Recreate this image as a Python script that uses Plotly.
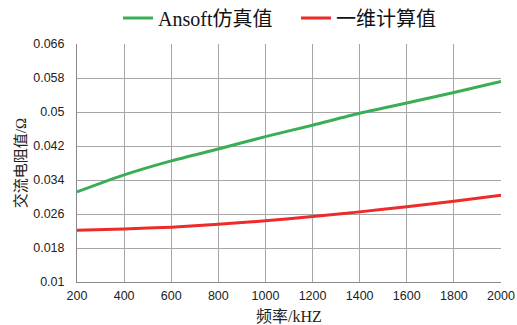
import plotly.graph_objects as go

freq = [200, 400, 600, 800, 1000, 1200, 1400, 1600, 1800, 2000]
ansoft = [0.0312, 0.0352, 0.0385, 0.0413, 0.0442, 0.0469, 0.0497, 0.0521, 0.0546, 0.0572]
one_d = [0.0222, 0.0225, 0.0229, 0.0236, 0.0244, 0.0254, 0.0265, 0.0277, 0.0290, 0.0304]
y_ticks = [0.01, 0.018, 0.026, 0.034, 0.042, 0.05, 0.058, 0.066]
y_labels = ["0.01", "0.018", "0.026", "0.034", "0.042", "0.05", "0.058", "0.066"]

fig = go.Figure()
fig.add_trace(go.Scatter(x=freq, y=ansoft, mode="lines", name="Ansoft仿真值",
                         line=dict(color="#3aae55", width=3, shape="spline", smoothing=0.6)))
fig.add_trace(go.Scatter(x=freq, y=one_d, mode="lines", name="一维计算值",
                         line=dict(color="#ee2b2b", width=3, shape="spline", smoothing=0.6)))

tick_font = dict(family="Liberation Sans, Arial, sans-serif", size=12.5, color="#222")
title_font = dict(family="Liberation Serif, Noto Sans CJK SC, serif", size=16, color="#222")
ytitle_font = dict(family="Liberation Serif, Noto Sans CJK SC, serif", size=15, color="#222")
fig.update_layout(
    width=517, height=325,
    margin=dict(l=77, r=16, t=44, b=43, autoexpand=False),
    paper_bgcolor="white", plot_bgcolor="white",
    showlegend=True,
    legend=dict(orientation="h", xref="container", yref="container", x=118 / 517, y=0.945,
                xanchor="left", yanchor="middle",
                font=dict(family="Liberation Serif, Noto Sans CJK SC, serif", size=20, color="#111"),
                itemwidth=30, tracegroupgap=0, entrywidth=133, entrywidthmode="pixels"),
    xaxis=dict(range=[200, 2000], tickvals=freq, ticks="outside", ticklen=2, tickcolor="rgba(0,0,0,0)",
               showgrid=True, automargin=False,
               gridcolor="#a6a6a6", gridwidth=1, showline=True, linecolor="#888", linewidth=1,
               mirror=False, zeroline=False, tickfont=tick_font),
    yaxis=dict(range=[0.01, 0.066], tickvals=y_ticks, ticktext=y_labels, ticks="outside", ticklen=9,
               tickcolor="rgba(0,0,0,0)", automargin=False,
               showgrid=True, gridcolor="#a6a6a6", gridwidth=1, showline=True, linecolor="#888",
               linewidth=1, zeroline=False, tickfont=tick_font),
    annotations=[
        dict(text="频率/kHZ", xref="paper", yref="paper", x=0.5, y=-0.143,
             xanchor="center", yanchor="middle", showarrow=False, font=title_font),
        dict(text="交流电阻值/Ω", xref="paper", yref="paper", x=-0.134, y=0.5,
             xanchor="center", yanchor="middle", showarrow=False, textangle=-90, font=ytitle_font),
    ],
)

fig.write_html("out.html")
